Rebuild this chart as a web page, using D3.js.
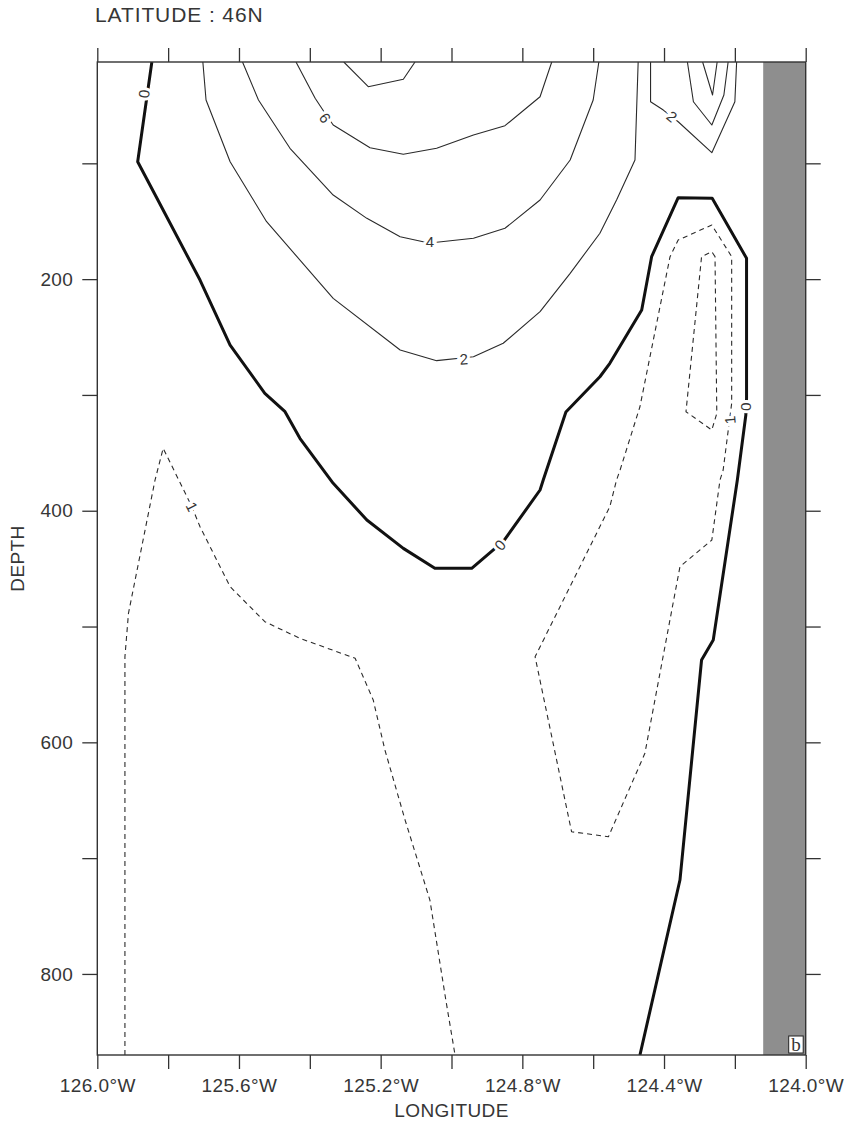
<!DOCTYPE html>
<html>
<head>
<meta charset="utf-8">
<script src="https://cdn.jsdelivr.net/npm/d3@7"></script>
<style>
  html, body { margin: 0; padding: 0; background: #fff; }
  svg { display: block; }
  text { font-family: "Liberation Sans", Arial, sans-serif; fill: #363636; }
</style>
</head>
<body>
<svg id="chart" width="845" height="1127"></svg>
<script>
// Section at 46N: longitude (deg E, negative = W) vs depth (m)
const lonTicks = [-126, -125.8, -125.6, -125.4, -125.2, -125, -124.8, -124.6, -124.4, -124.2, -124];
const lonLabelTicks = [-126, -125.6, -125.2, -124.8, -124.4, -124];
const depthTicks = [100, 200, 300, 400, 500, 600, 700, 800];
const depthLabelTicks = [200, 400, 600, 800];
const landEdgeLon = -124.12;

// Contour polylines, [lon, depth]
const zeroMain = [
  [-125.846, 12.5], [-125.886, 98.6], [-125.829, 131.7], [-125.710, 200.8], [-125.625, 256.9],
  [-125.527, 298.6], [-125.470, 314.5], [-125.428, 337.5], [-125.334, 376.3], [-125.239, 408],
  [-125.136, 432.5], [-125.047, 449.7], [-124.943, 449.7], [-124.877, 432.5], [-124.854, 426.7],
  [-124.750, 382.1], [-124.741, 373.5], [-124.677, 314.7], [-124.581, 284.3], [-124.553, 272.7],
  [-124.463, 226.7], [-124.435, 180.6], [-124.360, 129.7], [-124.264, 130.2], [-124.167, 182],
  [-124.167, 302.9], [-124.169, 317.3], [-124.193, 373.5], [-124.261, 511.6], [-124.294, 528.9],
  [-124.355, 718.9], [-124.468, 870]
];
const posTwo = [
  [-125.702, 12.5], [-125.693, 45.3], [-125.625, 98.6], [-125.522, 150.4], [-125.334, 216.6],
  [-125.145, 261.2], [-125.042, 270.4], [-124.938, 267], [-124.854, 255.4], [-124.750, 228.1],
  [-124.665, 195], [-124.581, 160.4], [-124.534, 131.7], [-124.482, 97.1], [-124.473, 12.5]
];
const posFour = [
  [-125.590, 12.5], [-125.545, 45.3], [-125.456, 87], [-125.334, 127.4], [-125.239, 147.5],
  [-125.145, 163.4], [-125.080, 167.7], [-125.042, 168.2], [-124.938, 164.7], [-124.849, 156.1],
  [-124.750, 131.7], [-124.665, 97.1], [-124.600, 45.3], [-124.584, 12.5]
];
const posSix = [
  [-125.439, 12.5], [-125.385, 43.8], [-125.357, 56.8], [-125.334, 66.9], [-125.230, 86.5],
  [-125.136, 92.2], [-125.042, 87], [-124.938, 75.5], [-124.849, 67.5], [-124.750, 42.5],
  [-124.717, 12.5]
];
const posEight = [[-125.304, 12.5], [-125.235, 33.8], [-125.136, 27.4], [-125.103, 12.5]];
const shelfTwo = [
  [-124.438, 12.5], [-124.438, 46.8], [-124.402, 54], [-124.360, 64.1], [-124.265, 90.8],
  [-124.200, 46.8], [-124.195, 12.5]
];
const shelfFour = [[-124.334, 12.5], [-124.317, 46.8], [-124.265, 66.9], [-124.231, 41], [-124.219, 12.5]];
const shelfSix = [[-124.291, 12.5], [-124.263, 41], [-124.250, 12.5]];
const negWest = [
  [-125.922, 870], [-125.922, 526.1], [-125.912, 488.6], [-125.837, 373.5], [-125.814, 346.1],
  [-125.733, 396.5], [-125.710, 413.8], [-125.625, 465.6], [-125.527, 495.8], [-125.428, 510.2],
  [-125.272, 527.4], [-125.221, 563.4], [-125.188, 606.6], [-125.131, 667.1], [-125.061, 736.2],
  [-125.016, 822.5], [-124.990, 870]
];
const negEast = [
  [-124.524, 364.8], [-124.468, 310.2], [-124.383, 180.6], [-124.360, 166.2], [-124.265, 153.3],
  [-124.209, 180.6], [-124.209, 307.2], [-124.233, 364.8], [-124.242, 373.5], [-124.265, 425.3],
  [-124.355, 448.3], [-124.454, 609.5], [-124.557, 681.5], [-124.661, 677.2], [-124.764, 526.1],
  [-124.553, 396.5], [-124.534, 373.5]
];
const negCore = [
  [-124.256, 180.6], [-124.265, 176.3], [-124.294, 180.6], [-124.338, 314.5], [-124.265, 330.3],
  [-124.251, 315.9]
];

// Contour labels: [text, lon, depth, angle]
const contourLabels = [
  ["0", -125.868, 40.1, -85],
  ["6", -125.357, 60.9, 56],
  ["4", -125.061, 168, 0],
  ["2", -124.965, 269, -4],
  ["2", -124.378, 59.7, 40],
  ["0", -124.863, 429.6, -50],
  ["0", -124.167, 310.2, 90],
  ["1", -125.733, 396.5, 63],
  ["1", -124.214, 321.7, -95]
];

const svg = d3.select("#chart");
const x = d3.scaleLinear().domain([-126, -124]).range([97.3, 805.7]);
const y = d3.scaleLinear().domain([12.5, 870]).range([62, 1055]);
const [x0, x1] = x.range();
const [y0, y1] = y.range();

svg.append("defs").append("clipPath").attr("id", "plotClip")
  .append("rect").attr("x", x0).attr("y", y0).attr("width", x1 - x0).attr("height", y1 - y0);

// land mask at the coast
svg.append("rect")
  .attr("x", x(landEdgeLon)).attr("y", y0)
  .attr("width", x(-124) - x(landEdgeLon)).attr("height", y1 - y0)
  .attr("fill", "#8e8e8e");

const line = d3.line().x(d => x(d[0])).y(d => y(d[1]));
const closed = d3.line().x(d => x(d[0])).y(d => y(d[1])).curve(d3.curveLinearClosed);
const g = svg.append("g").attr("clip-path", "url(#plotClip)");

const thin = { stroke: "#2a2a2a", width: 1.1, dash: null };
const dashed = { stroke: "#2a2a2a", width: 1.1, dash: "5,4" };
const thick = { stroke: "#111", width: 3, dash: null };

function draw(data, style, gen) {
  g.append("path").attr("d", gen(data))
    .attr("fill", "none")
    .attr("stroke", style.stroke)
    .attr("stroke-width", style.width)
    .attr("stroke-linejoin", "round")
    .attr("stroke-dasharray", style.dash);
}
[posTwo, posFour, posSix, posEight, shelfTwo, shelfFour, shelfSix].forEach(d => draw(d, thin, line));
draw(negWest, dashed, line);
draw(negEast, dashed, closed);
draw(negCore, dashed, closed);
draw(zeroMain, thick, line);

// labels break the lines with a white halo
svg.append("g").selectAll("text").data(contourLabels).join("text")
  .attr("transform", d => `translate(${x(d[1])},${y(d[2])}) rotate(${d[3]})`)
  .attr("text-anchor", "middle")
  .attr("dy", "0.36em")
  .attr("font-size", 15)
  .attr("stroke", "#fff")
  .attr("stroke-width", 6)
  .attr("paint-order", "stroke")
  .text(d => d[0]);

// axes
const fmtLon = v => lonLabelTicks.some(t => Math.abs(t - v) < 1e-6) ? `${Math.abs(v).toFixed(1)}°W` : "";
const fmtDepth = v => depthLabelTicks.includes(v) ? String(v) : "";

function styleAxis(sel) {
  sel.select(".domain").remove();
  sel.selectAll("line").attr("stroke", "#333").attr("stroke-width", 1.3);
  sel.selectAll("text").attr("font-size", 19).attr("fill", "#363636")
    .attr("letter-spacing", 0.4)
    .style("font-family", '"Liberation Sans", Arial, sans-serif');
}

svg.append("g").attr("transform", `translate(0,${y1})`)
  .call(d3.axisBottom(x).tickValues(lonTicks).tickFormat(fmtLon).tickSize(14).tickPadding(10))
  .call(styleAxis);
svg.append("g").attr("transform", `translate(0,${y0})`)
  .call(d3.axisTop(x).tickValues(lonTicks).tickFormat("").tickSize(14))
  .call(styleAxis);
svg.append("g").attr("transform", `translate(${x0},0)`)
  .call(d3.axisLeft(y).tickValues(depthTicks).tickFormat(fmtDepth).tickSize(15).tickPadding(9))
  .call(styleAxis);
svg.append("g").attr("transform", `translate(${x1},0)`)
  .call(d3.axisRight(y).tickValues(depthTicks).tickFormat("").tickSize(15))
  .call(styleAxis);

// frame
svg.append("rect").attr("x", x0).attr("y", y0).attr("width", x1 - x0).attr("height", y1 - y0)
  .attr("fill", "none").attr("stroke", "#333").attr("stroke-width", 1.4);

// titles
svg.append("text").attr("x", 95).attr("y", 22).attr("font-size", 21)
  .attr("letter-spacing", 0.9).text("LATITUDE : 46N");
svg.append("text").attr("x", (x0 + x1) / 2).attr("y", 1117).attr("text-anchor", "middle")
  .attr("font-size", 19).attr("letter-spacing", 0.4).text("LONGITUDE");
svg.append("text").attr("transform", `translate(24,${(y0 + y1) / 2}) rotate(-90)`)
  .attr("text-anchor", "middle").attr("font-size", 19).attr("letter-spacing", 0.4).text("DEPTH");

// panel tag
const tag = svg.append("g").attr("transform", `translate(${x1 - 17},${y1 - 19})`);
tag.append("rect").attr("width", 14.5).attr("height", 17).attr("fill", "#fff")
  .attr("stroke", "#222").attr("stroke-width", 1);
tag.append("text").attr("x", 7.3).attr("y", 14.5).attr("text-anchor", "middle")
  .attr("font-size", 19).style("font-family", '"Liberation Serif", "Times New Roman", serif')
  .attr("fill", "#111").text("b");
</script>
</body>
</html>
